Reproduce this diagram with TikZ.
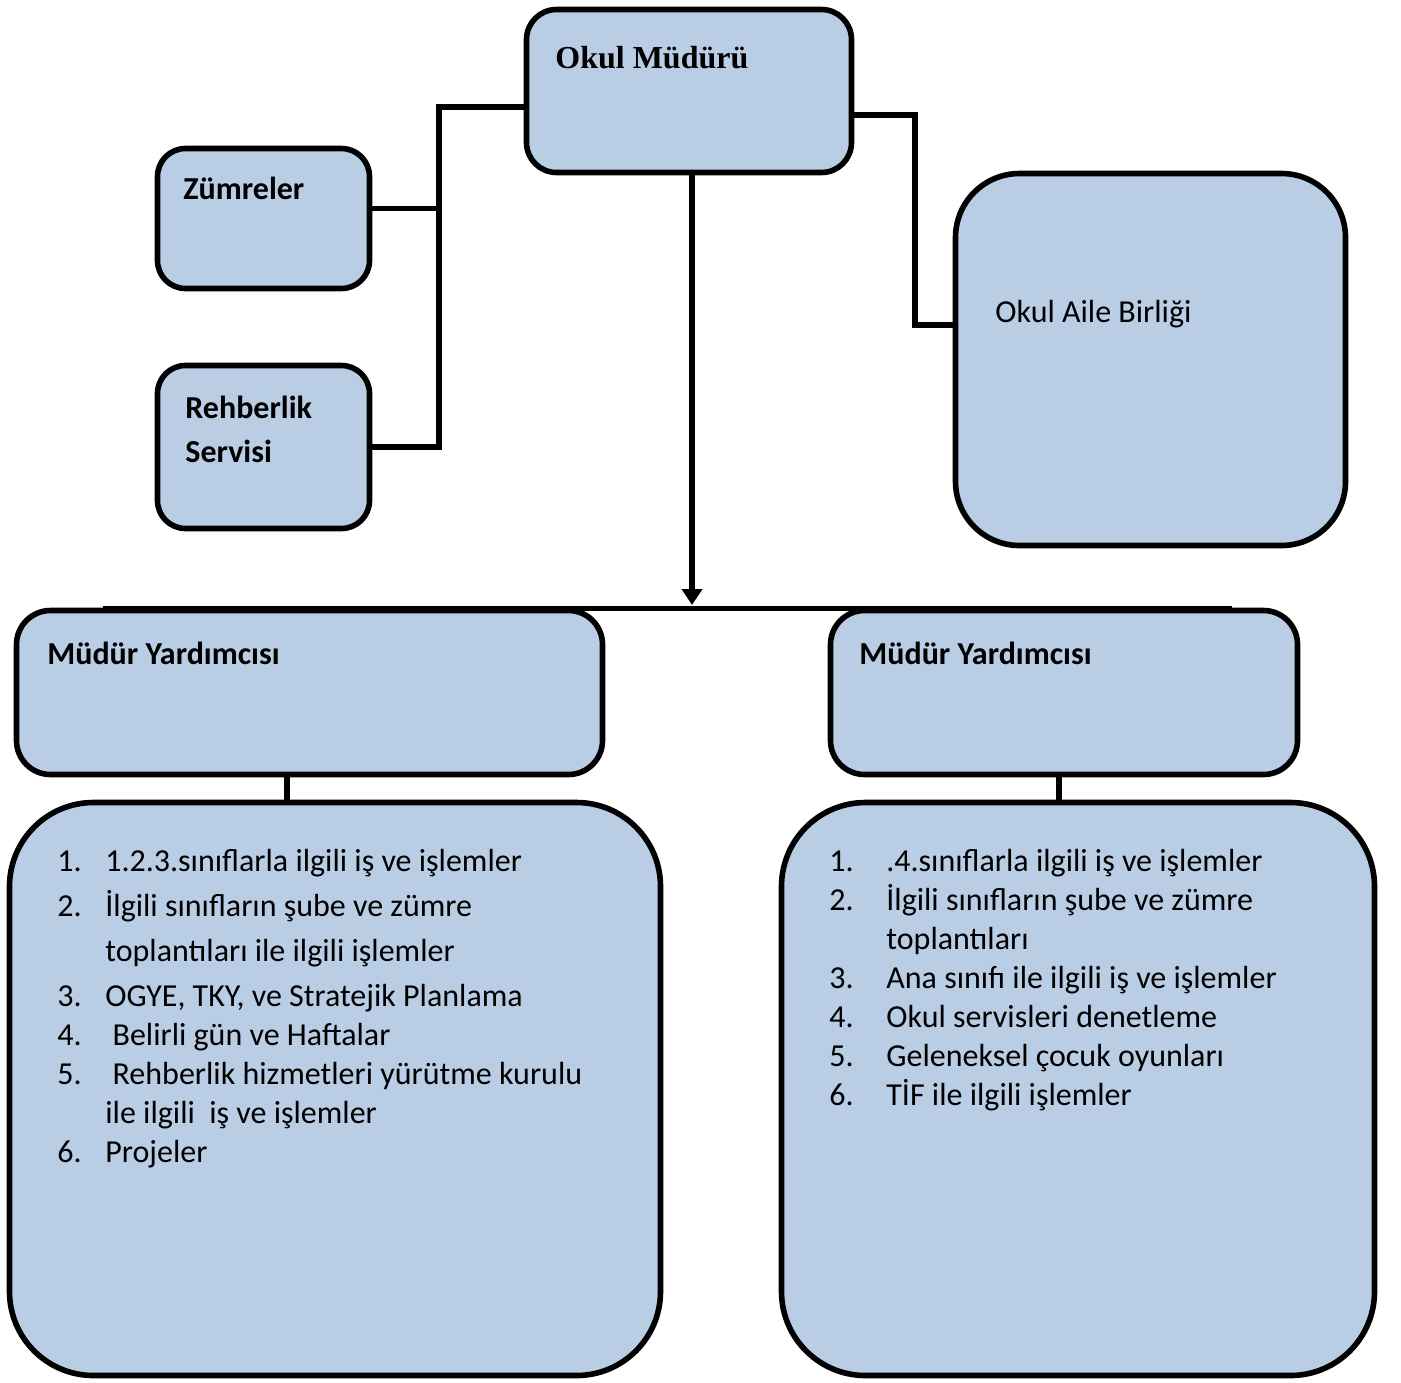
\documentclass[tikz,border=0pt]{standalone}
\usepackage{fontspec}
\setmainfont{Carlito}
\newfontfamily\timesfont{Liberation Serif}
\usepackage{xcolor}
\usepackage{tikz}
\usetikzlibrary{arrows.meta,positioning,calc}
\definecolor{boxfill}{HTML}{B9CDE5}
\newcommand{\listfont}{\fontsize{16}{19.5}\selectfont}

\begin{document}
\begin{tikzpicture}[x=0.5pt, y=-0.5pt,
  orgbox/.style={draw=black, line width=2.8pt, fill=boxfill, inner sep=0pt,
                 outer sep=0pt, anchor=north west},
  link/.style={line width=2.8pt},
  boxtitle/.style={font=\bfseries\listfont, inner sep=0pt, anchor=base west},
  boxtext/.style={font=\listfont, inner sep=0pt, anchor=base west}]
  \useasboundingbox (0,0) rectangle (1401,1382);
  % boxes
  \node[orgbox, rounded corners=15pt, minimum width=162.5pt, minimum height=81.5pt]
        (mudur) at (526.5,9.5) {};
  \node[orgbox, rounded corners=14pt, minimum width=106pt, minimum height=70pt]
        (zumre) at (157.5,148.5) {};
  \node[orgbox, rounded corners=14pt, minimum width=106pt, minimum height=81.5pt]
        (rehber) at (157.5,365.5) {};
  \node[orgbox, rounded corners=32pt, minimum width=195pt, minimum height=186pt]
        (aile) at (955.5,173.5) {};
  \node[orgbox, rounded corners=17pt, minimum width=293pt, minimum height=82pt]
        (myL) at (16.5,610.5) {};
  \node[orgbox, rounded corners=17pt, minimum width=233.5pt, minimum height=82pt]
        (myR) at (830.5,610.5) {};
  \node[orgbox, rounded corners=42pt, minimum width=325.5pt, minimum height=286.5pt]
        (listL) at (9.5,802.5) {};
  \node[orgbox, rounded corners=42pt, minimum width=296.5pt, minimum height=286.5pt]
        (listR) at (781.5,802.5) {};
  % titles
  \node[inner sep=0pt, anchor=base west, font=\timesfont\bfseries\fontsize{16}{19.5}\selectfont]
        (mudurT) at (555,68) {Okul Müdürü};
  \node[boxtitle] (zumreT) at (183,199) {Zümreler};
  \node[boxtitle] (rehberT) at (185,418) {\begin{tabular}[t]{@{}l@{}}Rehberlik\\[2.5pt]Servisi\end{tabular}};
  \node[boxtext] (aileT) at (995,322) {Okul Aile Birliği};
  \node[boxtitle] (myLT) at (47,664) {Müdür Yardımcısı};
  \node[boxtitle] (myRT) at (859,664) {Müdür Yardımcısı};
  % duty lists
  \node[boxtext] (itemsL) at (57,871) {\begin{tabular}[t]{@{}p{24pt}@{}l@{}}
    1. & 1.2.3.sınıflarla ilgili iş ve işlemler\\[3pt]
    2. & İlgili sınıfların şube ve zümre\\[3pt]
       & toplantıları ile ilgili işlemler\\[3pt]
    3. & OGYE, TKY, ve Stratejik Planlama\\
    4. & \ Belirli gün ve Haftalar\\
    5. & \ Rehberlik hizmetleri yürütme kurulu\\
       & ile ilgili \ iş ve işlemler\\
    6. & Projeler
  \end{tabular}};
  \node[boxtext] (itemsR) at (829,871) {\begin{tabular}[t]{@{}p{28.5pt}@{}l@{}}
    1. & .4.sınıflarla ilgili iş ve işlemler\\
    2. & İlgili sınıfların şube ve zümre\\
       & toplantıları\\
    3. & Ana sınıfı ile ilgili iş ve işlemler\\
    4. & Okul servisleri denetleme\\
    5. & Geleneksel çocuk oyunları\\
    6. & TİF ile ilgili işlemler
  \end{tabular}};
  % connectors
  \coordinate (lj) at (439,107);
  \coordinate (rj) at (915,115);
  \coordinate (bus) at (692,605);
  \coordinate (busL) at (103,608.5);
  \coordinate (busR) at (1232,608.5);
  \coordinate (linkL) at (287,0);
  \coordinate (linkR) at (1059,0);
  \draw[link] (mudur.west |- lj) -- (lj) -- (lj |- rehber.east) -- (rehber.east);
  \draw[link] ([yshift=5pt]zumre.east) -- ([yshift=5pt]zumre.east -| lj);
  \draw[link] (mudur.east |- rj) -- (rj) -- (rj |- 0,325) -- (aile.west |- 0,325);
  \draw[link, -{Triangle[width=10pt,length=8pt]}] (mudur.south -| bus) -- (bus);
  \draw[link] (busL) -- (busR);
  \draw[link] (myL.south -| linkL) -- (listL.north -| linkL);
  \draw[link] (myR.south -| linkR) -- (listR.north -| linkR);
\end{tikzpicture}
\end{document}
